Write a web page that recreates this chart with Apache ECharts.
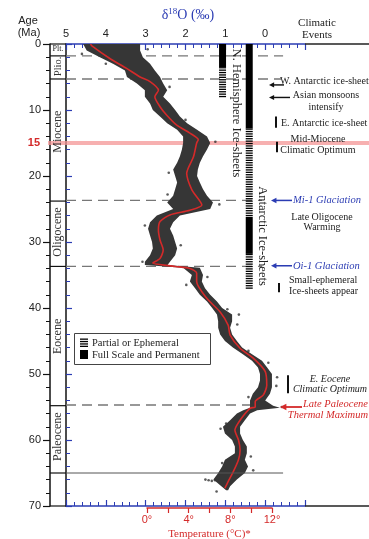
<!DOCTYPE html>
<html>
<head>
<meta charset="utf-8">
<script src="https://cdn.jsdelivr.net/npm/echarts@6/dist/echarts.min.js"></script>
<style>
  html, body { margin: 0; padding: 0; background: #fff; }
  #chart { width: 369px; height: 539px; }
</style>
</head>
<body>
<div id="chart"></div>
<script>
// smoothed benthic d18O curve (age in Ma, d18O in per mil)
const meanAge = [0, 0.3, 2.2, 3.7, 5.0, 5.7, 7.0, 8.0, 9.5, 10.8, 12.3, 13.5, 14.5, 15.0, 17.1, 19.6, 22.1, 24.4, 25.2, 25.9, 26.9, 28.2, 29.7, 31.2, 32.5, 33.2, 33.7, 34.0, 34.7, 36.0, 38.5, 40.6, 42.6, 44.1, 46.1, 47.6, 49.6, 51.7, 53.2, 54.2, 55.0, 55.2, 57.0, 58.5, 60.0, 61.5, 63.0, 64.8, 66.3, 67.3];
const meanD18O = [4.38, 4.35, 3.90, 3.48, 3.14, 2.89, 2.68, 2.77, 2.64, 2.47, 2.22, 1.89, 1.68, 1.72, 1.80, 1.97, 1.84, 1.59, 1.89, 2.39, 2.64, 2.68, 2.64, 2.56, 2.64, 2.82, 2.26, 1.89, 1.72, 1.72, 1.47, 1.13, 0.93, 0.88, 0.63, 0.30, 0.00, -0.04, 0.05, 0.25, 0.25, 0.38, 0.63, 0.76, 0.67, 0.63, 0.67, 0.80, 0.93, 1.01];

// spread of the raw measurements: heavy (left) and light (right) edges
const bandAge = [0, 1, 2, 3, 4, 5, 6, 7, 8, 9, 10, 11, 12, 13, 14, 15, 16, 17, 18, 19, 20, 21, 22, 23, 24, 25, 26, 27, 28, 29, 30, 31, 32, 33, 33.5, 33.9, 35, 36, 37, 38, 39, 40, 41, 42, 43, 44, 45, 46, 47, 48, 49, 50, 51, 52, 53, 54, 54.8, 55.1, 55.5, 56, 57, 58, 59, 60, 61, 62, 63, 64, 65, 66, 67, 67.6];
const bandHeavy = [4.57, 4.48, 4.15, 3.82, 3.52, 3.47, 3.22, 3.02, 3.02, 2.89, 2.82, 2.64, 2.46, 2.21, 2.06, 2.06, 2.09, 2.14, 2.21, 2.31, 2.26, 2.21, 2.26, 2.31, 2.46, 2.31, 2.72, 2.89, 2.94, 2.89, 2.84, 2.82, 2.89, 3.02, 3.02, 2.06, 1.84, 1.89, 1.76, 1.64, 1.46, 1.33, 1.21, 1.18, 1.18, 1.13, 1.01, 0.81, 0.56, 0.33, 0.18, 0.13, 0.13, 0.18, 0.31, 0.38, 0.38, 0.38, 0.55, 0.71, 0.88, 1.06, 1.01, 0.83, 0.76, 0.76, 1.01, 1.08, 1.18, 1.30, 1.10, 0.98];
const bandLight = [3.14, 3.14, 3.07, 2.89, 2.77, 2.64, 2.56, 2.46, 2.56, 2.39, 2.26, 2.14, 1.96, 1.71, 1.46, 1.38, 1.46, 1.56, 1.64, 1.69, 1.71, 1.64, 1.56, 1.46, 1.31, 1.38, 2.14, 2.31, 2.39, 2.31, 2.26, 2.21, 2.26, 2.39, 2.45, 1.64, 1.56, 1.59, 1.51, 1.38, 1.21, 1.08, 0.83, 0.83, 0.88, 0.83, 0.71, 0.58, 0.33, 0.08, -0.05, -0.17, -0.17, -0.17, -0.12, 0.00, -0.20, -0.37, 0.20, 0.38, 0.51, 0.63, 0.63, 0.56, 0.46, 0.46, 0.51, 0.43, 0.51, 0.71, 0.88, 0.93];

// scattered samples outside the dense band [age, d18O]
const strayPoints = [[0.8, 2.95], [1.5, 4.6], [3.0, 4.0], [6.5, 2.40], [11.5, 2.0], [14.8, 1.25], [19.5, 2.42], [22.8, 2.45], [24.3, 1.15], [27.5, 3.02], [30.5, 2.12], [33.0, 3.08], [35.3, 1.45], [36.5, 1.98], [40.2, 0.95], [41.0, 0.66], [42.5, 0.70], [46.5, 0.42], [48.3, -0.08], [50.5, -0.30], [51.8, -0.28], [53.5, 0.42], [55.0, -0.42], [57.5, 0.98], [58.3, 1.12], [62.5, 0.36], [63.5, 1.08], [64.6, 0.30], [66.0, 1.50], [66.1, 1.42], [66.2, 1.34], [66.1, 1.26], [67.8, 1.22]];

// ice-sheet extent: lane 0 = N. Hemisphere, 1 = Antarctic; kind 1 = full, 0 = partial
const iceStart = [0, 3.5, 0, 12.8, 26.2, 31.8];
const iceEnd = [3.5, 8.0, 12.8, 26.2, 31.8, 37.0];
const iceKind = [1, 0, 1, 0, 1, 0];
const iceLane = [0, 0, 1, 1, 1, 1];

// geologic epochs
const epochBounds = [0, 1.8, 5.3, 23.8, 33.7, 54.8, 65, 70];
const epochNames = ['Plt.', 'Plio.', 'Miocene', 'Oligocene', 'Eocene', 'Paleocene'];
const epochLabelAge = [0.8, 3.4, 13.3, 28.5, 44.3, 59.5];

// dashed event lines [age, d18O where the dash stops]
const dashAge = [1.8, 5.3, 23.7, 33.7, 54.7];
const dashEnd = [-0.45, -0.40, 0.08, 0.08, 0.30];

const tempTicks = [0, 2, 4, 6, 8, 10, 12];

const serif = '"Liberation Serif", "DejaVu Serif", serif';
const sans = '"Liberation Sans", Arial, sans-serif';
const blue = '#2b3cb3';
const red = '#d42a2a';

const laneCenter = [1.07, 0.40];

const chart = echarts.init(document.getElementById('chart'));

const blueAxis = {
  axisLine: { show: true, onZero: false, lineStyle: { color: blue, width: 1.5 } },
  axisTick: { show: true, inside: true, length: 6, lineStyle: { color: blue, width: 1.2 } },
  minorTick: { show: true, splitNumber: 5, length: 4, lineStyle: { color: blue, width: 1 } },
  splitLine: { show: false },
};

chart.setOption({
  animation: false,
  grid: [
    { left: 66, top: 44, width: 239, height: 462, outerBoundsMode: 'none' },
    { left: 147, top: 507, width: 125, height: 1, outerBoundsMode: 'none' },
  ],
  xAxis: [
    Object.assign({
      type: 'value', gridIndex: 0, position: 'top', min: -1, max: 5, interval: 1, inverse: true,
      axisLabel: { color: '#222', fontFamily: sans, fontSize: 11, margin: 5, formatter: (v) => (v < 0 ? '' : String(v)) },
    }, blueAxis),
    Object.assign({
      type: 'value', gridIndex: 0, position: 'bottom', min: -1, max: 5, interval: 1, inverse: true,
      axisLabel: { show: false },
    }, blueAxis),
    {
      type: 'value', gridIndex: 1, position: 'bottom', min: 0, max: 12, interval: 2,
      axisLine: { show: true, onZero: false, lineStyle: { color: red, width: 1.5 } },
      axisTick: { show: true, length: 5, lineStyle: { color: red, width: 1.2 } },
      splitLine: { show: false },
      axisLabel: {
        color: red, fontFamily: sans, fontSize: 11, margin: 6,
        formatter: (v) => (tempTicks.includes(v) && v % 4 === 0 ? v + '°' : ''),
      },
      name: 'Temperature (°C)*', nameLocation: 'middle', nameGap: 21,
      nameTextStyle: { color: red, fontFamily: serif, fontSize: 11 },
    },
  ],
  yAxis: [
    {
      type: 'value', gridIndex: 0, position: 'left', inverse: true, min: 0, max: 70, interval: 10, offset: 16,
      axisLine: { show: true, onZero: false, lineStyle: { color: '#111', width: 1.5 } },
      axisTick: { show: true, length: 7, lineStyle: { color: '#111', width: 1.2 } },
      minorTick: { show: true, splitNumber: 5, length: 4, lineStyle: { color: '#111', width: 1 } },
      splitLine: { show: false },
      axisLabel: { color: '#222', fontFamily: sans, fontSize: 11, margin: 9 },
    },
    Object.assign({
      type: 'value', gridIndex: 0, position: 'left', offset: 0, inverse: true, min: 0, max: 70, interval: 10,
      axisLabel: { show: false },
    }, blueAxis, {
      axisLine: { show: true, onZero: false, lineStyle: { color: '#111', width: 1.5 } },
    }),
    { type: 'value', gridIndex: 1, show: false, min: 0, max: 1 },
  ],
  series: [
    {
      type: 'custom', xAxisIndex: 0, yAxisIndex: 0, silent: true, z: 3,
      data: [[0, 0]],
      renderItem: (params, api) => {
        const pts = [];
        for (let i = 0; i < bandAge.length; i++) pts.push(api.coord([bandHeavy[i], bandAge[i]]));
        for (let i = bandAge.length - 1; i >= 0; i--) pts.push(api.coord([bandLight[i], bandAge[i]]));
        return { type: 'polygon', shape: { points: pts }, style: { fill: '#363636' } };
      },
    },
    {
      type: 'scatter', xAxisIndex: 0, yAxisIndex: 0, silent: true, z: 3,
      symbolSize: 2.6, itemStyle: { color: '#333' },
      data: strayPoints.map((p) => [p[1], p[0]]),
    },
    {
      type: 'line', xAxisIndex: 0, yAxisIndex: 0, silent: true, z: 4,
      showSymbol: false, smooth: 0.25,
      lineStyle: { color: red, width: 1.6 },
      data: meanAge.map((a, i) => [meanD18O[i], a]),
    },
    {
      type: 'custom', xAxisIndex: 0, yAxisIndex: 0, silent: true, z: 3,
      data: iceStart.map((s, i) => [s, iceEnd[i], iceKind[i], iceLane[i]]),
      renderItem: (params, api) => {
        const lane = api.value(3);
        const top = api.coord([laneCenter[lane], api.value(0)]);
        const bottom = api.coord([laneCenter[lane], api.value(1)]);
        const w = 7;
        const x = top[0] - w / 2;
        if (api.value(2) === 1) {
          return { type: 'rect', shape: { x, y: top[1], width: w, height: bottom[1] - top[1] }, style: { fill: '#000' } };
        }
        const children = [];
        for (let y = top[1]; y < bottom[1] - 0.5; y += 2.4) {
          children.push({ type: 'rect', shape: { x, y, width: w, height: 1.3 }, style: { fill: '#000' } });
        }
        return { type: 'group', children };
      },
    },
    ...dashAge.map((a, i) => ({
      type: 'line', xAxisIndex: 0, yAxisIndex: 0, silent: true, z: 2,
      showSymbol: false,
      lineStyle: { color: '#777', width: 1.4, type: [10, 6] },
      data: [[5, a], [dashEnd[i], a]],
    })),
  ],
});

const yPx = (age) => chart.convertToPixel({ yAxisIndex: 0 }, age);
const xPx = (d) => chart.convertToPixel({ xAxisIndex: 0 }, d);

const g = [];
const text = (x, y, str, o = {}) => g.push({
  type: 'text', x, y, z: 10, rotation: o.rotation || 0,
  style: {
    text: str, x: 0, y: 0, fill: o.color || '#222', align: o.align || 'left', verticalAlign: 'middle',
    font: (o.style || '') + ' ' + (o.weight || '') + ' ' + (o.size || 10.5) + 'px ' + (o.family || serif),
  },
});
const line = (x1, y1, x2, y2, color, width) => g.push({
  type: 'line', z: 10, shape: { x1, y1, x2, y2 }, style: { stroke: color, lineWidth: width },
});
const arrow = (xHead, xTail, y, color, size) => {
  line(xHead + size, y, xTail, y, color, size * 0.45);
  g.push({ type: 'polygon', z: 10, shape: { points: [[xHead, y], [xHead + size * 1.6, y - size * 0.8], [xHead + size * 1.6, y + size * 0.8]] }, style: { fill: color } });
};

// 15 Ma highlight
g.push({ type: 'rect', z: 1, shape: { x: 48, y: yPx(15) - 2, width: 321, height: 4 }, style: { fill: 'rgba(244,150,150,0.75)' } });

// frame extensions beyond the blue scale
const xEdge = xPx(-1);
line(xEdge, yPx(0), 369, yPx(0), '#222', 1.5);
line(xEdge, yPx(70), 369, yPx(70), '#222', 1.5);

// epoch column
epochBounds.forEach((b) => line(50, yPx(b), 66, yPx(b), '#111', 1.2));
line(66, yPx(65), xPx(-0.45), yPx(65), '#555', 1);
epochNames.forEach((n, i) => {
  if (i === 0) text(58, yPx(epochLabelAge[i]), n, { size: 8, align: 'center' });
  else text(58, yPx(epochLabelAge[i]), n, { size: i === 1 ? 10.5 : 12, align: 'center', rotation: Math.PI / 2, color: '#333' });
});

// axis titles
text(28, 21, 'Age', { family: sans, size: 11, align: 'center' });
text(29, 33, '(Ma)', { family: sans, size: 11, align: 'center' });
text(40, yPx(15), '15', { family: sans, size: 11, align: 'right', color: red, weight: 'bold' });
g.push({
  type: 'text', x: 188, y: 15, z: 10,
  style: {
    text: '{a|δ}{b|18}{a|O (‰)}', align: 'center', verticalAlign: 'middle',
    rich: {
      a: { font: '14px ' + serif, fill: blue },
      b: { font: '9px ' + serif, fill: blue, verticalAlign: 'top', padding: [0, 0, 6, 0] },
    },
  },
});
text(317, 23, 'Climatic', { size: 11, align: 'center' });
text(317, 35, 'Events', { size: 11, align: 'center' });

// ice-sheet labels
text(236, 113, 'N. Hemisphere Ice-sheets', { size: 12.5, align: 'center', rotation: -Math.PI / 2 });
text(262, 236, 'Antarctic Ice-sheets', { size: 12.5, align: 'center', rotation: -Math.PI / 2 });

// climatic events
text(280, 81, 'W. Antarctic ice-sheet', { size: 10 });
arrow(269, 284, yPx(6.2), '#111', 3.2);
text(326, 95, 'Asian monsoons', { size: 10, align: 'center' });
text(326, 107, 'intensify', { size: 10, align: 'center' });
arrow(269, 290, yPx(8.1), '#111', 3.2);
line(276, yPx(11.0), 276, yPx(12.7), '#111', 2);
text(281, 123, 'E. Antarctic ice-sheet', { size: 10 });
text(318, 139, 'Mid-Miocene', { size: 10, align: 'center' });
text(318, 150, 'Climatic Optimum', { size: 10, align: 'center' });
line(277, yPx(14.8), 277, yPx(16.4), '#111', 2);
arrow(271, 292, yPx(23.7), blue, 3.4);
text(293, yPx(23.7), 'Mi-1 Glaciation', { size: 10.5, style: 'italic', color: blue });
text(322, 217, 'Late Oligocene', { size: 10, align: 'center' });
text(322, 227, 'Warming', { size: 10, align: 'center' });
arrow(271, 292, yPx(33.6), blue, 3.4);
text(293, yPx(33.6), 'Oi-1 Glaciation', { size: 10.5, style: 'italic', color: blue });
line(279, yPx(36.2), 279, yPx(37.6), '#111', 2);
text(289, 280, 'Small-ephemeral', { size: 10 });
text(289, 291, 'Ice-sheets appear', { size: 10 });
line(288, yPx(50.2), 288, yPx(52.9), '#111', 2);
text(330, 379, 'E. Eocene', { size: 10, align: 'center', style: 'italic' });
text(330, 389, 'Climatic Optimum', { size: 10, align: 'center', style: 'italic' });
arrow(280, 302, yPx(55.0), red, 4);
text(368, 404, 'Late Paleocene', { size: 10.5, align: 'right', style: 'italic', color: red });
text(368, 415, 'Thermal Maximum', { size: 10.5, align: 'right', style: 'italic', color: red });

// legend box
g.push({ type: 'rect', z: 10, shape: { x: 74.5, y: 333.5, width: 136, height: 31 }, style: { fill: '#fff', stroke: '#444', lineWidth: 1 } });
for (let i = 0; i < 4; i++) g.push({ type: 'rect', z: 11, shape: { x: 80, y: 338.5 + i * 2.4, width: 8, height: 1.3 }, style: { fill: '#000' } });
g.push({ type: 'rect', z: 11, shape: { x: 80, y: 350, width: 8, height: 9 }, style: { fill: '#000' } });
text(92, 343, 'Partial or Ephemeral', { size: 10.5 });
text(92, 355, 'Full Scale and Permanent', { size: 10.5 });

chart.setOption({ graphic: g });
</script>
</body>
</html>
